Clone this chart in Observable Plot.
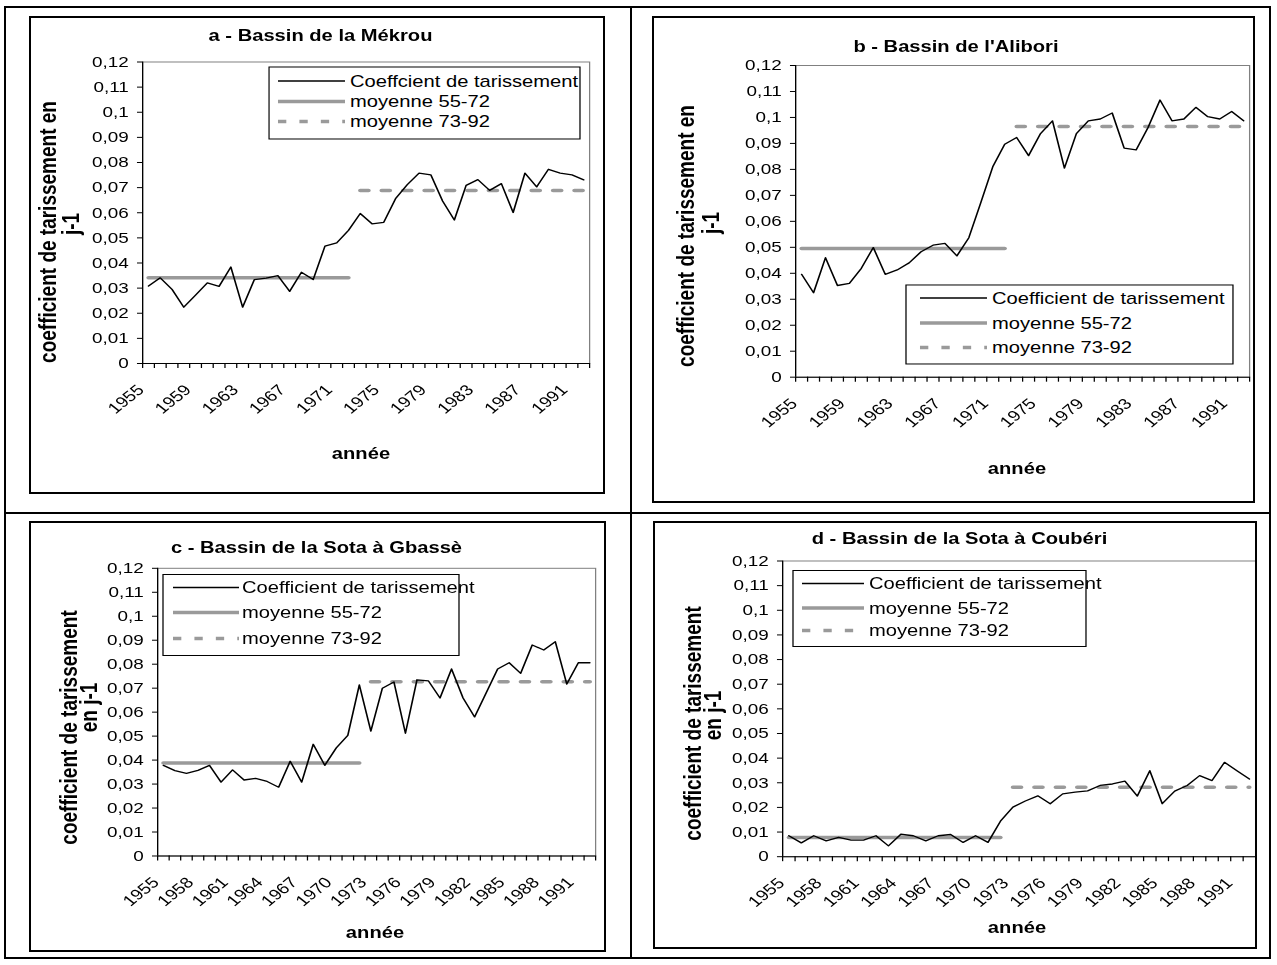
<!DOCTYPE html>
<html>
<head>
<meta charset="utf-8">
<script src="https://cdn.jsdelivr.net/npm/d3@7"></script>
<script src="https://cdn.jsdelivr.net/npm/@observablehq/plot@0.6"></script>
<style>
  html, body { margin: 0; padding: 0; background: #fff; }
  #page { position: relative; width: 1277px; height: 965px; overflow: hidden; font-family: 'Liberation Sans', Arial, Helvetica, sans-serif; }
  .rule { position: absolute; background: #000; }
  .box { position: absolute; border: 2px solid #000; box-sizing: border-box; }
  .holder { position: absolute; transform-origin: 0 0; }
</style>
</head>
<body>
<div id="page"></div>
<script>
// ---------------- DATA ----------------
const years = [1955,1956,1957,1958,1959,1960,1961,1962,1963,1964,1965,1966,1967,1968,1969,1970,1971,1972,1973,1974,1975,1976,1977,1978,1979,1980,1981,1982,1983,1984,1985,1986,1987,1988,1989,1990,1991,1992];
const breakYear = 1973;

const coefMekrou = [0.0308,0.0341,0.0295,0.0224,0.0272,0.0321,0.0307,0.0384,0.0224,0.0334,0.0340,0.0350,0.0287,0.0363,0.0334,0.0467,0.0480,0.0530,0.0597,0.0556,0.0562,0.0656,0.0712,0.0758,0.0751,0.0647,0.0571,0.0709,0.0732,0.0689,0.0716,0.0601,0.0758,0.0703,0.0773,0.0758,0.0751,0.0731];
const coefAlibori = [0.0396,0.0325,0.0460,0.0353,0.0361,0.0419,0.0499,0.0396,0.0413,0.0440,0.0483,0.0508,0.0515,0.0467,0.0537,0.0672,0.0810,0.0897,0.0923,0.0853,0.0938,0.0987,0.0805,0.0938,0.0987,0.0994,0.1017,0.0882,0.0875,0.0961,0.1067,0.0987,0.0994,0.1039,0.1003,0.0994,0.1023,0.0987];
const coefSotaGbasse = [0.0378,0.0356,0.0345,0.0357,0.0378,0.0308,0.0359,0.0317,0.0324,0.0311,0.0287,0.0395,0.0308,0.0466,0.0378,0.0451,0.0503,0.0714,0.0521,0.0700,0.0726,0.0512,0.0735,0.0730,0.0659,0.0780,0.0659,0.0580,0.0680,0.0780,0.0806,0.0762,0.0880,0.0859,0.0894,0.0717,0.0806,0.0806];
const coefSotaCouberi = [0.0085,0.0056,0.0085,0.0064,0.0078,0.0067,0.0067,0.0085,0.0044,0.0091,0.0085,0.0064,0.0085,0.0090,0.0058,0.0085,0.0058,0.0144,0.0201,0.0226,0.0247,0.0215,0.0255,0.0262,0.0267,0.0289,0.0295,0.0307,0.0246,0.0349,0.0215,0.0266,0.0289,0.0329,0.0309,0.0383,0.0349,0.0315];

const moyMekrou = [0.0341, 0.0689];
const moyAlibori = [0.0495, 0.0965];
const moySotaGbasse = [0.0388, 0.0727];
const moySotaCouberi = [0.0078, 0.0282];

const yTicks = [0,0.01,0.02,0.03,0.04,0.05,0.06,0.07,0.08,0.09,0.10,0.11,0.12];
const labelYears4 = [1955,1959,1963,1967,1971,1975,1979,1983,1987,1991];
const labelYears3 = [1955,1958,1961,1964,1967,1970,1973,1976,1979,1982,1985,1988,1991];

const titles = ["a - Bassin de la Mékrou", "b - Bassin de l'Alibori", "c - Bassin de la Sota à Gbassè", "d - Bassin de la Sota à Coubéri"];
const legendA = ["Coeffcient de tarissement", "moyenne 55-72", "moyenne 73-92"];
const legendB = ["Coefficient de tarissement", "moyenne 55-72", "moyenne 73-92"];
const yTitleAB = ["coefficient de tarissement en", "j-1"];
const yTitleCD = ["coefficient de tarissement", "en j-1"];
const xTitle = "année";

// ---------------- LAYOUT ----------------
const K = 1.26; // horizontal stretch of the original picture
const FONT = "'Liberation Sans', Arial, Helvetica, sans-serif";
const GRAY = "#9a9a9a";
const fmt = d => d === 0 ? "0" : String(+d.toFixed(2)).replace(".", ",");

const panels = [
  { values: coefMekrou, means: moyMekrou, title: titles[0], legend: legendA, labels: labelYears4, yTitle: yTitleAB,
    box: [30, 17, 604, 493], plot: [142, 589, 61.5, 363],
    titleXY: [320.5, 40.7], yTitleXY: [[56, 232], [79, 224]], xTitleXY: [361, 459],
    legendBox: [269, 67, 580, 139], legendRows: [81, 101.5, 121.5], sample: [278, 345], textX: 350 },
  { values: coefAlibori, means: moyAlibori, title: titles[1], legend: legendB, labels: labelYears4, yTitle: yTitleAB,
    box: [653, 17, 1254, 502], plot: [795, 1249, 65, 376.7],
    titleXY: [956, 52], yTitleXY: [[694, 236], [719, 223]], xTitleXY: [1017, 474],
    legendBox: [906, 285, 1233, 364], legendRows: [298, 323, 347.5], sample: [920, 987], textX: 992 },
  { values: coefSotaGbasse, means: moySotaGbasse, title: titles[2], legend: legendB, labels: labelYears3, yTitle: yTitleCD,
    box: [30, 521.5, 605, 950.5], plot: [157, 595, 567.3, 855],
    titleXY: [316.5, 552.5], yTitleXY: [[77, 727], [97, 707]], xTitleXY: [375, 938],
    legendBox: [163, 574, 459, 655], legendRows: [587, 612, 638], sample: [173, 239], textX: 242 },
  { values: coefSotaCouberi, means: moySotaCouberi, title: titles[3], legend: legendB, labels: labelYears3, yTitle: yTitleCD,
    box: [654, 521.5, 1256, 948], plot: [782, 1255, 560, 855.7],
    titleXY: [959.5, 544], yTitleXY: [[701, 723], [721, 715]], xTitleXY: [1017, 933],
    legendBox: [793, 570, 1086, 646], legendRows: [583, 607.5, 630], sample: [802, 864], textX: 869 }
];

const page = document.getElementById("page");

panels.forEach(p => {
  const [L, T, R, B] = p.box;
  const W = R - L, H = B - T, Wu = W / K;
  const ux = xr => (xr - L) / K;
  const uy = yr => yr - T;
  const rows = years.map((year, i) => ({ year, v: p.values[i] }));
  const m1 = years.filter(y => y < breakYear).map(year => ({ year, v: p.means[0] }));
  const m2 = years.filter(y => y >= breakYear).map(year => ({ year, v: p.means[1] }));
  const bounds = years.map(y => y - 0.5).concat([years[years.length - 1] + 0.5]);
  const x0 = bounds[0], x1 = bounds[bounds.length - 1];

  const svg = Plot.plot({
    width: Wu, height: H,
    marginLeft: ux(p.plot[0]), marginRight: Wu - ux(p.plot[1]),
    marginTop: uy(p.plot[2]), marginBottom: H - uy(p.plot[3]),
    style: { fontFamily: FONT, background: "transparent", overflow: "visible", color: "#000" },
    x: { type: "linear", domain: [x0, x1], axis: null },
    y: { type: "linear", domain: [0, 0.12], axis: null },
    marks: [
      Plot.frame({ stroke: "#808080", strokeWidth: 1 }),
      Plot.ruleX([x0], { stroke: "#000", strokeWidth: 1 }),
      Plot.ruleY([0], { stroke: "#000", strokeWidth: 1 }),
      Plot.axisY(yTicks, { anchor: "left", label: null, tickSize: 4, tickPadding: 7, tickFormat: fmt, fontSize: 15, color: "#000" }),
      Plot.axisX(bounds, { anchor: "bottom", label: null, tickSize: 5, tickFormat: () => "", color: "#000" }),
      Plot.axisX(p.labels, { anchor: "bottom", label: null, tickSize: 0, tickPadding: 24, dx: -6, tickRotate: -45, tickFormat: d => String(d), fontSize: 15, color: "#000" }),
      Plot.line(m1, { x: "year", y: "v", stroke: GRAY, strokeWidth: 3.5 }),
      Plot.line(m2, { x: "year", y: "v", stroke: GRAY, strokeWidth: 3.5, strokeDasharray: "6.6,10.4" }),
      Plot.line(rows, { x: "year", y: "v", stroke: "#000", strokeWidth: 1.3 })
    ]
  });

  const s = d3.select(svg);
  // title
  s.append("text").attr("x", ux(p.titleXY[0])).attr("y", uy(p.titleXY[1]))
    .attr("text-anchor", "middle").attr("font-family", FONT).attr("font-weight", "bold").attr("font-size", 16)
    .attr("fill", "#000").text(p.title);
  // x title
  s.append("text").attr("x", ux(p.xTitleXY[0])).attr("y", uy(p.xTitleXY[1]))
    .attr("text-anchor", "middle").attr("font-family", FONT).attr("font-weight", "bold").attr("font-size", 16)
    .attr("fill", "#000").text(xTitle);
  // y title (two lines)
  p.yTitle.forEach((line, i) => {
    const [xr, yr] = p.yTitleXY[i];
    s.append("text").attr("transform", `translate(${ux(xr)},${uy(yr)}) rotate(-90)`)
      .attr("text-anchor", "middle").attr("font-family", FONT).attr("font-weight", "bold").attr("font-size", 19)
      .attr("fill", "#000").text(line);
  });
  // legend
  const lg = s.append("g");
  const lb = p.legendBox;
  lg.append("rect").attr("x", ux(lb[0])).attr("y", uy(lb[1])).attr("width", (lb[2] - lb[0]) / K).attr("height", lb[3] - lb[1])
    .attr("fill", "#fff").attr("stroke", "#000").attr("stroke-width", 1);
  const styles = [
    { stroke: "#000", w: 1.3, dash: null },
    { stroke: GRAY, w: 3.5, dash: null },
    { stroke: GRAY, w: 3.5, dash: "6.6,10.4" }
  ];
  p.legend.forEach((label, i) => {
    const yy = uy(p.legendRows[i]);
    const ln = lg.append("line").attr("x1", ux(p.sample[0])).attr("x2", ux(p.sample[1])).attr("y1", yy).attr("y2", yy)
      .attr("stroke", styles[i].stroke).attr("stroke-width", styles[i].w);
    if (styles[i].dash) ln.attr("stroke-dasharray", styles[i].dash);
    lg.append("text").attr("x", ux(p.textX)).attr("y", yy).attr("dy", "0.35em").attr("text-anchor", "start")
      .attr("font-family", FONT).attr("font-size", 16).attr("fill", "#000").text(label);
  });

  const holder = document.createElement("div");
  holder.className = "holder";
  holder.style.left = L + "px";
  holder.style.top = T + "px";
  holder.style.width = Wu + "px";
  holder.style.height = H + "px";
  holder.style.transform = `scaleX(${K})`;
  svg.style.maxWidth = "none";
  svg.style.display = "block";
  holder.appendChild(svg);
  page.appendChild(holder);

  const box = document.createElement("div");
  box.className = "box";
  box.style.left = (L - 1) + "px";
  box.style.top = (T - 1) + "px";
  box.style.width = (W + 2) + "px";
  box.style.height = (H + 2) + "px";
  page.appendChild(box);
});

// table rules
const rules = [
  [4, 6, 1267, 2], [4, 957, 1267, 2], [4, 6, 2, 953], [1269, 6, 2, 953],
  [630, 6, 2, 953], [4, 511.5, 1267, 2]
];
rules.forEach(([l, t, w, h]) => {
  const d = document.createElement("div");
  d.className = "rule";
  d.style.left = l + "px"; d.style.top = t + "px"; d.style.width = w + "px"; d.style.height = h + "px";
  page.appendChild(d);
});
</script>
</body>
</html>
